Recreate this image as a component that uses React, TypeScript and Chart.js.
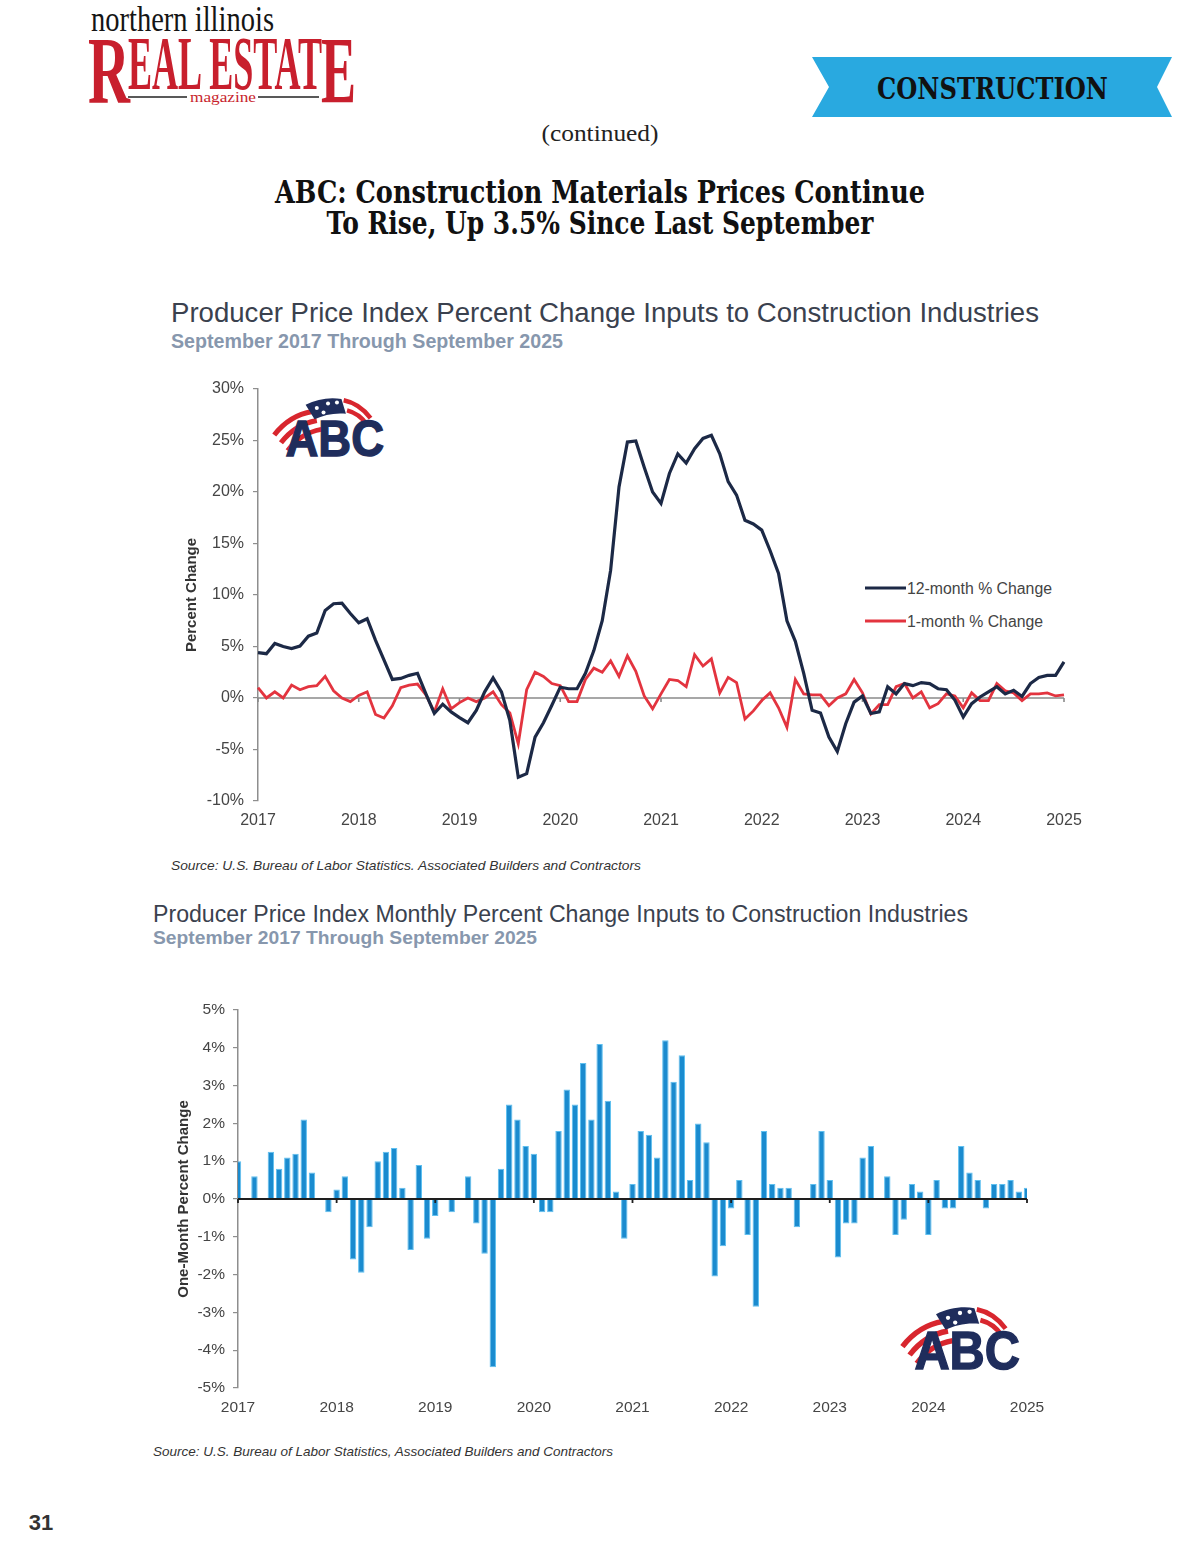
import React, { useEffect, useRef } from 'react';
import { Chart, registerables } from 'chart.js';

Chart.register(...registerables);

// ---------- DATA ----------
// Monthly observations, September 2017 through September 2025 (97 months)
const yearTickLabels = ['2017', '2018', '2019', '2020', '2021', '2022', '2023', '2024', '2025'];

// 12-month % change (navy line)
const twelveMonthChange = [
  4.4, 4.3, 5.3, 5.0, 4.8, 5.05, 6.0, 6.3, 8.5, 9.15, 9.2, 8.2,
  7.3, 7.7, 5.6, 3.7, 1.8, 1.9, 2.2, 2.4, 0.4, -1.5, -0.6, -1.35,
  -1.9, -2.4, -1.2, 0.6, 1.95, 0.6, -2.2, -7.7, -7.35, -3.8, -2.4, -0.7,
  1.05, 0.9, 0.9, 2.4, 4.6, 7.5, 12.4, 20.5, 24.85, 24.95, 22.4, 20.0,
  18.9, 21.8, 23.7, 22.8, 24.2, 25.2, 25.5, 23.7, 21.0, 19.7, 17.25, 16.9,
  16.3, 14.3, 12.1, 7.5, 5.5, 2.4, -1.2, -1.45, -3.8, -5.2, -2.5, -0.4,
  0.2, -1.5, -1.35, 1.1, 0.4, 1.4, 1.2, 1.5, 1.4, 0.9, 0.8, -0.2,
  -1.85, -0.55, 0.1, 0.6, 1.1, 0.4, 0.75, 0.15, 1.4, 2.0, 2.2, 2.2, 3.5,
];

// 1-month % change (red line and blue bars)
const oneMonthChange = [
  1.0, 0.0, 0.6, 0.0, 1.25, 0.8, 1.1, 1.2, 2.1, 0.7, 0.0, -0.35,
  0.25, 0.6, -1.6, -1.95, -0.75, 1.0, 1.25, 1.35, 0.3, -1.35, 0.9, -1.05,
  -0.45, 0.0, -0.35, 0.0, 0.6, -0.65, -1.45, -4.45, 0.8, 2.5, 2.1, 1.4,
  1.2, -0.35, -0.35, 1.8, 2.9, 2.5, 3.6, 2.1, 4.1, 2.6, 0.2, -1.05,
  0.4, 1.8, 1.7, 1.1, 4.2, 3.1, 3.8, 0.5, 2.0, 1.5, -2.05, -1.25,
  -0.25, 0.5, -0.95, -2.85, 1.8, 0.4, 0.3, 0.3, -0.75, 0.0, 0.4, 1.8,
  0.5, -1.55, -0.65, -0.65, 1.1, 1.4, 0.0, 0.6, -0.95, -0.55, 0.4, 0.2,
  -0.95, 0.5, -0.25, -0.25, 1.4, 0.7, 0.5, -0.25, 0.4, 0.4, 0.5, 0.2, 0.3,
];

const SERIES_12 = '12-month % Change';
const SERIES_1 = '1-month % Change';

const monthLabels: string[] = twelveMonthChange.map((_, i) => {
  const m = (8 + i) % 12;
  const y = 2017 + Math.floor((8 + i) / 12);
  return `${y}-${String(m + 1).padStart(2, '0')}`;
});

// ---------- STYLE ----------
const NAVY = '#1c2946';
const RED = '#e3343f';
const BLUE = '#1a8bcf';
const AXIS_GREY = '#8e8e8e';
const SANS = "'Liberation Sans', Arial, sans-serif";
const TICK_FONT = { family: SANS, size: 16 };
const TICK_COLOR = '#454545';

const yearTick = (_v: any, index: number) => (index % 12 === 0 ? yearTickLabels[index / 12] : null);

const zeroLinePlugin = (color: string, width: number, tickLen: number, above: boolean) => {
  const draw = (chart: any) => {
    const { ctx, chartArea, scales } = chart;
    const y0 = scales.y.getPixelForValue(0);
    ctx.save();
    ctx.strokeStyle = color;
    ctx.lineWidth = width;
    ctx.beginPath();
    ctx.moveTo(chartArea.left, y0);
    ctx.lineTo(chartArea.right, y0);
    for (let i = 0; i < monthLabels.length; i += 12) {
      const x = scales.x.getPixelForValue(i);
      ctx.moveTo(x, y0);
      ctx.lineTo(x, y0 + tickLen);
    }
    ctx.stroke();
    ctx.restore();
  };
  return above
    ? { id: 'zeroLineAbove', afterDatasetsDraw: draw }
    : { id: 'zeroLineBelow', beforeDatasetsDraw: draw };
};

function LineChart() {
  const ref = useRef<HTMLCanvasElement>(null);
  useEffect(() => {
    const chart = new Chart(ref.current!, {
      type: 'line',
      data: {
        labels: monthLabels,
        datasets: [
          { label: SERIES_12, data: twelveMonthChange, borderColor: NAVY, borderWidth: 3.2, pointRadius: 0, tension: 0 },
          { label: SERIES_1, data: oneMonthChange, borderColor: RED, borderWidth: 2.8, pointRadius: 0, tension: 0 },
        ],
      },
      options: {
        animation: false,
        responsive: false,
        maintainAspectRatio: false,
        layout: { padding: { top: 19, right: 36, bottom: 19, left: 0 } },
        plugins: { legend: { display: false }, tooltip: { enabled: false } },
        scales: {
          x: {
            grid: { display: false, drawTicks: false },
            border: { display: false },
            ticks: { autoSkip: false, maxRotation: 0, padding: 10, font: TICK_FONT, color: TICK_COLOR, callback: yearTick },
            afterFit: (s: any) => { s.height = 30; },
          },
          y: {
            min: -10,
            max: 30,
            ticks: { stepSize: 5, padding: 9, font: TICK_FONT, color: TICK_COLOR, callback: (v: any) => `${v}%` },
            grid: { drawOnChartArea: false, tickColor: AXIS_GREY, tickLength: 5, lineWidth: 1.2 },
            border: { display: true, color: AXIS_GREY, width: 1.5 },
            title: { display: true, text: 'Percent Change', color: '#333', font: { family: SANS, size: 15, weight: 'bold' }, padding: { top: 13, bottom: 0 } },
            afterFit: (s: any) => { s.width = 88; },
          },
        },
      },
      plugins: [zeroLinePlugin('#8a8a8a', 1.6, 4, false)],
    } as any);
    return () => chart.destroy();
  }, []);
  return <canvas ref={ref} width={930} height={480} style={{ position: 'absolute', left: 170, top: 370, zIndex: 1 }} />;
}

function BarChart() {
  const ref = useRef<HTMLCanvasElement>(null);
  useEffect(() => {
    const chart = new Chart(ref.current!, {
      type: 'bar',
      data: {
        labels: monthLabels,
        datasets: [
          { label: SERIES_1, data: oneMonthChange, backgroundColor: BLUE, borderColor: '#5fc0f0', borderWidth: 1, barPercentage: 0.78, categoryPercentage: 1 },
        ],
      },
      options: {
        animation: false,
        responsive: false,
        maintainAspectRatio: false,
        layout: { padding: { top: 20, right: 53, bottom: 12, left: 0 } },
        plugins: { legend: { display: false }, tooltip: { enabled: false } },
        scales: {
          x: {
            offset: false,
            grid: { display: false, drawTicks: false },
            border: { display: false },
            ticks: { autoSkip: false, maxRotation: 0, padding: 10, font: { family: SANS, size: 15.5 }, color: TICK_COLOR, callback: yearTick },
            afterFit: (s: any) => { s.height = 30; },
          },
          y: {
            min: -5,
            max: 5,
            ticks: { stepSize: 1, padding: 8, font: { family: SANS, size: 15.5 }, color: TICK_COLOR, callback: (v: any) => `${v}%` },
            grid: { drawOnChartArea: false, tickColor: AXIS_GREY, tickLength: 5, lineWidth: 1.2 },
            border: { display: true, color: AXIS_GREY, width: 1.5 },
            title: { display: true, text: 'One-Month Percent Change', color: '#333', font: { family: SANS, size: 15, weight: 'bold' }, padding: { top: 25, bottom: 0 } },
            afterFit: (s: any) => { s.width = 88; },
          },
        },
      },
      plugins: [zeroLinePlugin('#1e1e1e', 1.8, 4, true)],
    } as any);
    return () => chart.destroy();
  }, []);
  return <canvas ref={ref} width={930} height={440} style={{ position: 'absolute', left: 150, top: 990, zIndex: 1 }} />;
}

function AbcLogo({ x, y, s }: { x: number; y: number; s: number }) {
  return (
    <g transform={`translate(${x},${y}) scale(${s})`}>
      <path d="M2,33 C12,20 24,14 36,12" stroke="#d8262e" strokeWidth="4.5" fill="none" />
      <path d="M8,40 C17,28 29,22 40,20" stroke="#d8262e" strokeWidth="4.5" fill="none" />
      <path d="M14,47 C22,36 33,30 44,28" stroke="#d8262e" strokeWidth="4.5" fill="none" />
      <path d="M30,6 C40,1 52,-1 62,1 L66,14 C56,13 46,15 38,19 Z" fill="#1f2d5c" />
      <circle cx="40" cy="9" r="1.8" fill="#fff" />
      <circle cx="50" cy="5" r="1.8" fill="#fff" />
      <circle cx="58" cy="4" r="1.8" fill="#fff" />
      <circle cx="46" cy="13" r="1.8" fill="#fff" />
      <path d="M64,2 C74,4 82,10 88,18" stroke="#d8262e" strokeWidth="4" fill="none" />
      <path d="M67,11 C75,13 81,18 85,24" stroke="#d8262e" strokeWidth="4" fill="none" />
      <text x="12" y="52" fontFamily={SANS} fontWeight="bold" fontSize="44" fill="#1f2d5c" stroke="#1f2d5c" strokeWidth="1.2" textLength="88" lengthAdjust="spacingAndGlyphs">ABC</text>
    </g>
  );
}

function PageText() {
  const serif = "'DejaVu Serif', 'Liberation Serif', serif";
  const tserif = "'Liberation Serif', 'Times New Roman', serif";
  const logoRed = '#c81f2d';
  return (
    <svg width={1200} height={1553} style={{ position: 'absolute', left: 0, top: 0, zIndex: 0 }}>
      {/* masthead */}
      <text x="91" y="31" fontFamily={tserif} fontSize="35" fill="#151515" textLength="183" lengthAdjust="spacingAndGlyphs">northern illinois</text>
      <text x="88" y="103" fontFamily={tserif} fontWeight="bold" fontSize="96" fill={logoRed} textLength="42" lengthAdjust="spacingAndGlyphs">R</text>
      <text x="128" y="89" fontFamily={tserif} fontWeight="bold" fontSize="76" fill={logoRed} textLength="194" lengthAdjust="spacingAndGlyphs">EAL ESTAT</text>
      <text x="321" y="103" fontFamily={tserif} fontWeight="bold" fontSize="96" fill={logoRed} textLength="35" lengthAdjust="spacingAndGlyphs">E</text>
      <line x1="128" y1="97" x2="187" y2="97" stroke="#222" strokeWidth="1.6" />
      <line x1="258" y1="97" x2="319" y2="97" stroke="#222" strokeWidth="1.6" />
      <text x="190" y="102" fontFamily={tserif} fontSize="15" fill={logoRed} textLength="66" lengthAdjust="spacingAndGlyphs">magazine</text>

      {/* section banner */}
      <polygon points="812,57 1172,57 1157,87 1172,117 812,117 829,87" fill="#29a9e0" />
      <text x="877" y="99" fontFamily={serif} fontWeight="bold" fontSize="30" fill="#111" textLength="231" lengthAdjust="spacingAndGlyphs">CONSTRUCTION</text>

      <text x="600" y="141" textAnchor="middle" fontFamily={tserif} fontSize="24" fill="#222" textLength="117" lengthAdjust="spacingAndGlyphs">(continued)</text>

      <text x="600" y="203" textAnchor="middle" fontFamily={serif} fontWeight="bold" fontSize="31" fill="#111" textLength="650" lengthAdjust="spacingAndGlyphs">ABC: Construction Materials Prices Continue</text>
      <text x="600" y="234" textAnchor="middle" fontFamily={serif} fontWeight="bold" fontSize="31" fill="#111" textLength="547" lengthAdjust="spacingAndGlyphs">To Rise, Up 3.5% Since Last September</text>

      {/* chart 1 heading */}
      <text x="171" y="322" fontFamily={SANS} fontSize="27" fill="#3a414e" textLength="868" lengthAdjust="spacingAndGlyphs">Producer Price Index Percent Change Inputs to Construction Industries</text>
      <text x="171" y="348" fontFamily={SANS} fontWeight="bold" fontSize="19.4" fill="#8797ad" textLength="392" lengthAdjust="spacingAndGlyphs">September 2017 Through September 2025</text>
      <AbcLogo x={272} y={398} s={1.12} />

      {/* chart 1 legend */}
      <line x1="865" y1="588" x2="906" y2="588" stroke={NAVY} strokeWidth="3.2" />
      <text x="907" y="594" fontFamily={SANS} fontSize="16" fill="#444" textLength="145" lengthAdjust="spacingAndGlyphs">{SERIES_12}</text>
      <line x1="865" y1="621" x2="906" y2="621" stroke={RED} strokeWidth="3.2" />
      <text x="907" y="627" fontFamily={SANS} fontSize="16" fill="#444" textLength="136" lengthAdjust="spacingAndGlyphs">{SERIES_1}</text>

      <text x="171" y="870" fontFamily={SANS} fontStyle="italic" fontSize="13.5" fill="#333" textLength="470" lengthAdjust="spacingAndGlyphs">Source: U.S. Bureau of Labor Statistics. Associated Builders and Contractors</text>

      {/* chart 2 heading */}
      <text x="153" y="922" fontFamily={SANS} fontSize="23" fill="#3a414e" textLength="815" lengthAdjust="spacingAndGlyphs">Producer Price Index Monthly Percent Change Inputs to Construction Industries</text>
      <text x="153" y="944" fontFamily={SANS} fontWeight="bold" fontSize="19" fill="#8797ad" textLength="384" lengthAdjust="spacingAndGlyphs">September 2017 Through September 2025</text>
      <AbcLogo x={900} y={1307} s={1.2} />

      <text x="153" y="1456" fontFamily={SANS} fontStyle="italic" fontSize="13.2" fill="#333" textLength="460" lengthAdjust="spacingAndGlyphs">Source: U.S. Bureau of Labor Statistics, Associated Builders and Contractors</text>

      <text x="41" y="1530" textAnchor="middle" fontFamily={SANS} fontWeight="bold" fontSize="22" fill="#333">31</text>
    </svg>
  );
}

export default function App() {
  useEffect(() => {
    document.body.style.margin = '0';
  }, []);
  return (
    <div style={{ position: 'absolute', left: 0, top: 0, width: 1200, height: 1553, background: '#fff', overflow: 'hidden' }}>
      <PageText />
      <LineChart />
      <BarChart />
    </div>
  );
}
